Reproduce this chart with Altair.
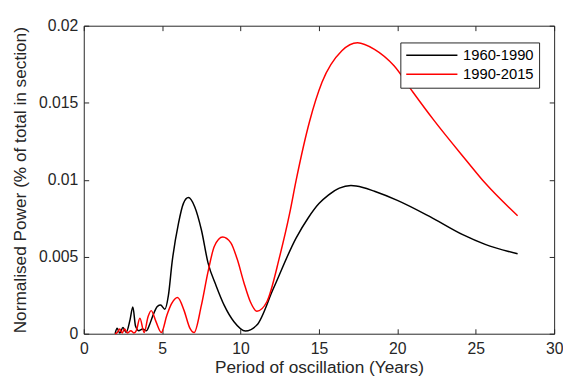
import altair as alt
import pandas as pd

series_names = ["1960-1990", "1990-2015"]
series_colors = ["#000000", "#ff0000"]

black_x = [2.0, 2.13, 2.3, 2.5, 2.7, 2.95, 3.13, 3.3, 3.5, 3.75, 4.0, 4.2, 4.38, 4.7, 4.9,
           5.17, 5.4, 5.63, 6.04, 6.35, 6.67, 7.08, 7.5, 7.92, 8.44, 8.96, 9.58, 10.31,
           11.04, 12.08, 13.54, 14.3, 15.0, 15.6, 16.3, 17.04, 17.8, 18.54, 20.0, 22.08,
           24.17, 25.6, 27.67]
black_y = [0.0, 0.00035, 0.00005, 0.0004, 0.00008, 0.0009, 0.00174, 0.0005, 0.0002, 0.0003,
           0.0002, 0.0006, 0.0011, 0.00178, 0.00186,
           0.00159, 0.0025, 0.00462, 0.00717, 0.00845, 0.00884, 0.00823, 0.00675, 0.00462,
           0.00312, 0.00184, 0.00078, 0.00018,
           0.00056, 0.0029, 0.00621, 0.0075, 0.00845, 0.009, 0.00945, 0.00962, 0.0095,
           0.00925, 0.00866, 0.0076, 0.00643, 0.0058, 0.00519]

red_x = [2.0, 2.15, 2.29, 2.45, 2.6, 2.8, 3.0, 3.2, 3.35, 3.58, 3.85, 4.1, 4.3, 4.6, 4.95,
         5.3, 5.6, 5.98, 6.4, 6.75, 7.04, 7.5, 7.92, 8.33, 8.86, 9.38, 9.79, 10.21, 10.63,
         11.04, 11.67, 12.5, 13.13, 13.54, 14.4, 15.2, 16.46, 17.46, 18.54, 19.79, 21.0,
         22.3, 24.4, 25.6, 27.67]
red_y = [0.0, 0.0001, 0.0003, 0.00005, 0.0003, 0.00005, 0.0002, 0.00005, 0.0002, 0.001,
         0.00008, 0.0011, 0.0015, 0.0008, 0.00008,
         0.0012, 0.00195, 0.00235, 0.0015, 0.0004, 0.00008, 0.00184, 0.004, 0.00568,
         0.00628, 0.0059, 0.00483, 0.00333, 0.00206,
         0.00146, 0.00206, 0.00504, 0.00781, 0.00994, 0.01378, 0.01634, 0.01838, 0.0189,
         0.01847, 0.0174, 0.01568, 0.0139, 0.01125, 0.00978, 0.00766]

x_ticks = [0, 5, 10, 15, 20, 25, 30]
y_ticks = [0, 0.005, 0.01, 0.015, 0.02]

rows = []
for xs_, ys_, name in [(black_x, black_y, series_names[0]), (red_x, red_y, series_names[1])]:
    for i, (a, b) in enumerate(zip(xs_, ys_)):
        rows.append({"period": a, "power": b, "series": name, "order": i})
df = pd.DataFrame(rows)

FONT = "Liberation Sans"
AX = "#262626"

xscale = alt.Scale(domain=[0, 30], nice=False, zero=False)
yscale = alt.Scale(domain=[0, 0.02], nice=False, zero=False)

common = dict(domain=False, grid=False, tickColor=AX, tickSize=5, tickWidth=1,
              offset=-5, labelFont=FONT, labelFontSize=16, labelColor=AX,
              labelFlush=False, labelOverlap=False,
              titleFont=FONT, titleFontSize=17.5, titleColor=AX, titleFontWeight="normal")

lines = alt.Chart(df).mark_line(strokeWidth=1.5, interpolate="monotone").encode(
    x=alt.X("period:Q", scale=xscale,
            axis=alt.Axis(orient="bottom", values=x_ticks, labelPadding=7,
                          title="Period of oscillation (Years)", titlePadding=2, **common)),
    y=alt.Y("power:Q", scale=yscale,
            axis=alt.Axis(orient="left", values=y_ticks, format="~g", labelPadding=6,
                          title="Normalised Power (% of total in section)", titlePadding=9,
                          **common)),
    color=alt.Color("series:N",
                    scale=alt.Scale(domain=series_names, range=series_colors),
                    legend=alt.Legend(title=None, orient="none", legendX=321.7, legendY=17,
                                      strokeColor=AX, fillColor="white", padding=5,
                                      symbolType="M-1,0H6.43", symbolSize=196,
                                      symbolStrokeWidth=1.5, labelOffset=42.7,
                                      labelFont=FONT, labelFontSize=15, labelColor="#000000",
                                      rowPadding=3.4)),
    order="order:Q",
    detail="series:N",
)

frame = alt.Chart(df).mark_line(opacity=0).encode(
    x=alt.X("period:Q", scale=xscale,
            axis=alt.Axis(orient="top", values=x_ticks, labels=False, title="", **common)),
    y=alt.Y("power:Q", scale=yscale,
            axis=alt.Axis(orient="right", values=y_ticks, labels=False, title="", **common)),
    detail="series:N",
)

chart = alt.layer(lines, frame).resolve_axis(x="independent", y="independent").properties(
    width=478, height=313,
    padding={"left": 3, "top": 7, "right": 0, "bottom": 0},
    background="white",
).configure_view(stroke=AX, strokeWidth=1)

chart.save("out.html", embed_options={"renderer": "svg", "actions": False})
